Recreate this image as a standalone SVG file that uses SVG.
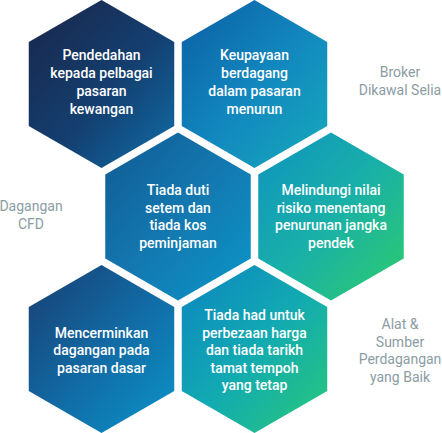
<svg xmlns="http://www.w3.org/2000/svg" xmlns:xlink="http://www.w3.org/1999/xlink" width="442" height="433" viewBox="0 0 442 433">
<defs>
<path id="hex" d="M0,-84 L72.75,-42 L72.75,42 L0,84 L-72.75,42 L-72.75,-42 Z"/>
<linearGradient id="g1" x1="0" y1="0" x2="1" y2="1"><stop offset="0" stop-color="#1a2548"/><stop offset="0.55" stop-color="#143f70"/><stop offset="1" stop-color="#0f6fa8"/></linearGradient>
<linearGradient id="g2" x1="0" y1="0" x2="1" y2="1"><stop offset="0" stop-color="#0b5ea3"/><stop offset="0.5" stop-color="#1286be"/><stop offset="1" stop-color="#17abbb"/></linearGradient>
<linearGradient id="g3" x1="0" y1="0" x2="1" y2="1"><stop offset="0" stop-color="#115a93"/><stop offset="0.5" stop-color="#1478b0"/><stop offset="1" stop-color="#0a97c9"/></linearGradient>
<linearGradient id="g4" x1="0" y1="0" x2="1" y2="1"><stop offset="0" stop-color="#0e92c0"/><stop offset="0.5" stop-color="#19b0a8"/><stop offset="1" stop-color="#2ecc6c"/></linearGradient>
<linearGradient id="g5" x1="0" y1="0" x2="1" y2="1"><stop offset="0" stop-color="#183e70"/><stop offset="0.5" stop-color="#1269a3"/><stop offset="1" stop-color="#0a95ca"/></linearGradient>
<linearGradient id="g6" x1="0" y1="0" x2="1" y2="1"><stop offset="0" stop-color="#0c84c0"/><stop offset="0.5" stop-color="#12aab2"/><stop offset="1" stop-color="#28c978"/></linearGradient>
</defs>
<style>
.t{font-family:Roboto,"Liberation Sans",sans-serif;font-size:14px;font-weight:500;fill:#ffffff;text-anchor:middle}
.s{font-family:Roboto,"Liberation Sans",sans-serif;font-size:14px;font-weight:400;fill:#8b9ca4;text-anchor:middle}
</style>
<rect width="442" height="433" fill="#ffffff"/>
<g id="connectors"></g>
<g id="hex1">
<use xlink:href="#hex" transform="translate(101.5,84)" fill="url(#g1)"/>
<text class="t" x="101.5" y="60">Pendedahan</text>
<text class="t" x="101.5" y="78">kepada pelbagai</text>
<text class="t" x="101.5" y="96">pasaran</text>
<text class="t" x="101.5" y="113.5">kewangan</text>
</g>
<g id="hex2">
<use xlink:href="#hex" transform="translate(254.5,84)" fill="url(#g2)"/>
<text class="t" x="254.5" y="60">Keupayaan</text>
<text class="t" x="254.5" y="78">berdagang</text>
<text class="t" x="254.5" y="96">dalam pasaran</text>
<text class="t" x="254.5" y="113.5">menurun</text>
</g>
<g id="hex3">
<use xlink:href="#hex" transform="translate(178,216.5)" fill="url(#g3)"/>
<text class="t" x="178" y="195">Tiada duti</text>
<text class="t" x="178" y="212.5">setem dan</text>
<text class="t" x="178" y="230">tiada kos</text>
<text class="t" x="178" y="248">peminjaman</text>
</g>
<g id="hex4">
<use xlink:href="#hex" transform="translate(331,216.5)" fill="url(#g4)"/>
<text class="t" x="331" y="195">Melindungi nilai</text>
<text class="t" x="331" y="212.5">risiko menentang</text>
<text class="t" x="331" y="230">penurunan jangka</text>
<text class="t" x="331" y="248">pendek</text>
</g>
<g id="hex5">
<use xlink:href="#hex" transform="translate(101.5,349)" fill="url(#g5)"/>
<text class="t" x="101.5" y="337.5">Mencerminkan</text>
<text class="t" x="101.5" y="355">dagangan pada</text>
<text class="t" x="101.5" y="372.5">pasaran dasar</text>
</g>
<g id="hex6">
<use xlink:href="#hex" transform="translate(254.5,349)" fill="url(#g6)"/>
<text class="t" x="254.5" y="320">Tiada had untuk</text>
<text class="t" x="254.5" y="337.5">perbezaan harga</text>
<text class="t" x="254.5" y="355">dan tiada tarikh</text>
<text class="t" x="254.5" y="372.5">tamat tempoh</text>
<text class="t" x="254.5" y="390">yang tetap</text>
</g>
<g id="label-cfd">
<text class="s" x="31" y="211">Dagangan</text>
<text class="s" x="31" y="229">CFD</text>
</g>
<g id="label-broker">
<text class="s" x="400" y="77">Broker</text>
<text class="s" x="400" y="95">Dikawal Selia</text>
</g>
<g id="label-alat">
<text class="s" x="400" y="329">Alat &amp;</text>
<text class="s" x="400" y="346.5">Sumber</text>
<text class="s" x="400" y="364">Perdagangan</text>
<text class="s" x="400" y="381.5">yang Baik</text>
</g>
</svg>
